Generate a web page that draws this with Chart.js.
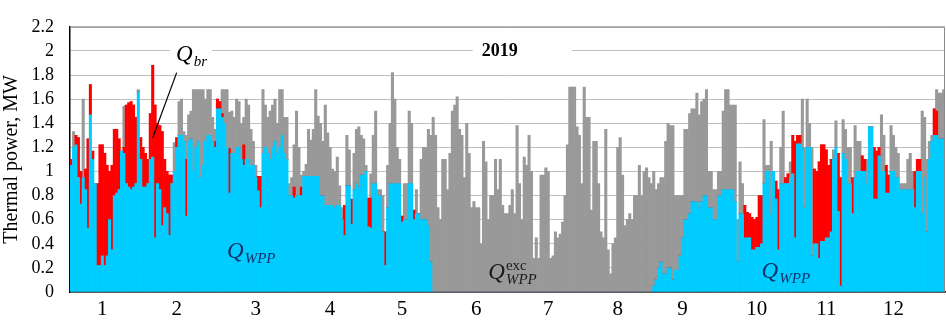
<!DOCTYPE html>
<html>
<head>
<meta charset="utf-8">
<script src="https://cdn.jsdelivr.net/npm/chart.js@4.4.1/dist/chart.umd.min.js"></script>
<style>
  html, body { margin: 0; padding: 0; background: #fff; }
  #wrap { width: 946px; height: 322px; }
</style>
</head>
<body>
<div id="wrap"><canvas id="powerChart" width="946" height="322"></canvas></div>
<script>
// month numbers under the axis and the day index each one sits on
const monthLabels = ["1", "2", "3", "4", "5", "6", "7", "8", "9", "10", "11", "12"];
const monthLabelDay = [13, 44, 77, 108, 138, 169, 199, 228, 255, 286, 315, 343];

// daily thermal power, MW (2019)
// Q_WPP - covered by the wood pellet plant
const qWpp = [
  // jan
  1.05, 1.2, 1.22, 0.95, 0.73, 0.95, 0.85, 0.53, 1.47, 1.1, 0.9, 0.22, 0.22, 0.3, 0.22, 0.3,
  0.6, 0.35, 0.8, 0.82, 0.85, 1.17, 1.15, 0.9, 0.87, 0.85, 0.87, 0.9, 1.66, 1.1, 0.87,
  // feb
  0.87, 0.9, 1.1, 1.12, 0.45, 0.9, 0.85, 0.55, 0.7, 0.65, 0.47, 0.9, 1.0, 1.2, 1.3, 1.3,
  1.25, 0.63, 1.25, 1.27, 1.0, 1.2, 1.25, 0.95, 1.05, 1.25, 1.3, 1.3,
  // mar
  1.25, 1.2, 1.52, 1.52, 1.45, 1.4, 1.2, 0.82, 1.15, 1.15, 1.2, 1.2, 1.1, 1.05, 1.1, 1.1,
  1.05, 1.05, 0.95, 0.84, 0.7, 1.15, 1.2, 1.15, 1.1, 1.2, 1.25, 1.15, 1.2, 1.3, 1.15,
  // apr
  1.1, 0.8, 0.8, 0.78, 0.8, 0.8, 0.8, 0.96, 0.96, 0.96, 0.96, 0.96, 0.96, 0.96, 0.8,
  0.8, 0.72, 0.72, 0.72, 0.72, 0.7, 0.72, 0.72, 0.6, 0.47, 0.88, 0.88, 0.56, 0.85, 0.9,
  // may
  0.87, 0.97, 0.97, 1.0, 0.54, 0.53, 0.9, 0.9, 0.8, 0.8, 0.5, 0.22, 0.7, 0.9, 0.9, 0.9,
  0.9, 0.9, 0.58, 0.6, 0.6, 0.9, 0.9, 0.6, 0.65, 0.65, 0.6, 0.6, 0.6, 0.55, 0.25,
  // jun
  0, 0, 0, 0, 0, 0, 0, 0, 0, 0, 0, 0, 0, 0, 0, 0, 0, 0, 0, 0, 0, 0, 0, 0, 0, 0, 0, 0, 0, 0,
  // jul
  0, 0, 0, 0, 0, 0, 0, 0, 0, 0, 0, 0, 0, 0, 0, 0, 0, 0, 0, 0, 0, 0, 0, 0, 0, 0, 0, 0, 0, 0, 0,
  // aug
  0, 0, 0, 0, 0, 0, 0, 0, 0, 0, 0, 0, 0, 0, 0, 0, 0, 0, 0, 0, 0, 0, 0, 0, 0, 0, 0, 0, 0, 0, 0,
  // sep
  0.05, 0.1, 0.2, 0.25, 0.15, 0.15, 0.2, 0.2, 0.1, 0.18, 0.18, 0.3, 0.45, 0.6, 0.6, 0.65,
  0.75, 0.75, 0.75, 0.7, 0.75, 0.8, 0.8, 0.7, 0.7, 0.6, 0.6, 0.8, 0.8, 0.85,
  // oct
  0.85, 0.85, 0.85, 0.85, 0.75, 0.25, 0.65, 0.65, 0.45, 0.45, 0.45, 0.35, 0.35, 0.37, 0.37,
  0.4, 0.9, 1.0, 1.0, 0.65, 1.0, 0.77, 0.35, 0.9, 0.9, 0.9, 0.9, 0.95, 0.98, 0.45, 1.23,
  // nov
  1.23, 1.2, 0.7, 1.2, 1.2, 0.3, 0.4, 0.4, 0.28, 0.42, 0.42, 0.45, 0.45, 0.5, 1.1, 1.2,
  0.67, 0.05, 1.15, 1.1, 0.9, 0.9, 0.65, 0.95, 1.0, 1.0, 1.0, 1.0, 0.9, 1.37,
  // dec
  1.37, 0.77, 0.77, 1.13, 1.0, 1.0, 0.82, 0.82, 1.0, 1.0, 0.95, 0.95, 0.85, 0.85, 0.85,
  0.85, 0.85, 0.85, 0.7, 1.0, 1.0, 0.65, 0.95, 0.5, 1.1, 1.25, 1.3, 1.3, 1.27, 1.27, 1.27
];

// Q_br - covered by the boiler
const qBr = [
  // jan
  0.05, 0, 0.08, 0.33, 0.27, 0, 0.17, 0.74, 0.25, 0.07, 0, 0.68, 1.0, 0.92, 0.93, 0.75,
  0.4, 0.7, 0.55, 0.53, 0.42, 0, 0.05, 0.65, 0.7, 0.73, 0.68, 0.55, 0, 0.18, 0.33,
  // feb
  0.28, 0.2, 0.38, 0.76, 1.1, 0.5, 0.53, 0.78, 0.4, 0.35, 0.5, 0.07, 0, 0.08, 0, 0,
  0, 0.47, 0, 0, 0, 0, 0, 0, 0, 0, 0, 0,
  // mar
  0, 0.05, 0.08, 0.06, 0.03, 0, 0, 0.37, 0, 0, 0, 0, 0, 0.17, 0, 0,
  0, 0, 0, 0.12, 0.26, 0, 0, 0, 0, 0, 0, 0, 0, 0, 0,
  // apr
  0, 0, 0, 0.09, 0, 0, 0.07, 0, 0, 0, 0, 0, 0, 0, 0,
  0, 0, 0, 0, 0, 0, 0, 0, 0, 0.25, 0, 0, 0.21, 0, 0,
  // may
  0, 0, 0, 0, 0.24, 0.25, 0, 0, 0, 0, 0, 0.28, 0, 0, 0, 0,
  0, 0, 0.05, 0, 0, 0, 0, 0.08, 0, 0, 0, 0, 0, 0, 0,
  // jun
  0, 0, 0, 0, 0, 0, 0, 0, 0, 0, 0, 0, 0, 0, 0, 0, 0, 0, 0, 0, 0, 0, 0, 0, 0, 0, 0, 0, 0, 0,
  // jul
  0, 0, 0, 0, 0, 0, 0, 0, 0, 0, 0, 0, 0, 0, 0, 0, 0, 0, 0, 0, 0, 0, 0, 0, 0, 0, 0, 0, 0, 0, 0,
  // aug
  0, 0, 0, 0, 0, 0, 0, 0, 0, 0, 0, 0, 0, 0, 0, 0, 0, 0, 0, 0, 0, 0, 0, 0, 0, 0, 0, 0, 0, 0, 0,
  // sep
  0, 0, 0, 0, 0, 0, 0, 0, 0, 0, 0, 0, 0, 0, 0, 0, 0, 0, 0, 0, 0, 0, 0, 0, 0, 0, 0, 0, 0, 0,
  // oct
  0, 0, 0, 0, 0, 0, 0, 0, 0.27, 0.21, 0.2, 0.27, 0.25, 0.25, 0.43,
  0.4, 0, 0, 0, 0, 0, 0.15, 0.5, 0, 0, 0.05, 0.08, 0, 0.32, 0.8, 0.07,
  // nov
  0.07, 0, 0, 0, 0, 0, 0.62, 0.6, 0.8, 0.8, 0.8, 0.73, 0.6, 0.6, 0, 0,
  0.48, 0.9, 0, 0, 0, 0, 0.3, 0, 0, 0, 0.13, 0.1, 0, 0,
  // dec
  0, 0.43, 0.4, 0.07, 0, 0, 0.23, 0.15, 0, 0, 0, 0, 0, 0, 0,
  0, 0, 0, 0.3, 0.1, 0.1, 0, 0, 0, 0, 0, 0.22, 0.2, 0, 0, 0
];

// Q_WPP exc - excess capacity of the plant
const qExc = [
  // jan
  0, 0.13, 0, 0, 0, 0.65, 0, 0, 0, 0, 0, 0, 0, 0, 0, 0,
  0, 0, 0, 0, 0, 0, 0.34, 0, 0, 0, 0, 0, 0.02, 0, 0,
  // feb
  0, 0, 0, 0, 0, 0, 0, 0, 0, 0, 0, 0, 0.24, 0, 0.28, 0.3,
  0.08, 0.2, 0.22, 0.23, 0.68, 0.48, 0.43, 0.73, 0.63, 0.35, 0.38, 0.38,
  // mar
  0.2, 0.1, 0, 0, 0.2, 0.28, 0.48, 0.3, 0.35, 0.3, 0.4, 0.38, 0.3, 0.23, 0.5, 0.45,
  0.3, 0.2, 0.1, 0, 0, 0.53, 0.35, 0.3, 0.4, 0.35, 0.35, 0.25, 0.48, 0.38, 0.3,
  // apr
  0.35, 0.1, 0.15, 0.35, 0.7, 0.4, 0.1, 0.04, 0.1, 0.39, 0.3, 0.39, 0.72, 0.5, 0.6,
  0.45, 0.83, 0.6, 0.48, 0.3, 0.3, 0.4, 0.16, 0.1, 0, 0.42, 0.3, 0, 0.3, 0.45,
  // may
  0.5, 0.33, 0.3, 0.05, 0, 0.2, 0.4, 0.6, 0.05, 0.05, 0.3, 0, 0.35, 0.5, 0.92, 0.7,
  0.3, 0.2, 0, 0.3, 0.3, 0.6, 0.5, 0, 0.2, 0, 0.5, 0.6, 0.6, 0.8, 1.05,
  // jun
  1.45, 1.3, 0.7, 0.6, 1.1, 1.1, 0.85, 1.15, 1.5, 1.55, 1.62, 1.35, 1.3, 0.95, 1.4,
  1.15, 0.7, 0.75, 0.7, 0.7, 0.4, 1.25, 1.08, 0.6, 0.8, 0.8, 1.1, 0.85, 1.1, 0.72,
  // jul
  0.65, 0.65, 0.72, 0.85, 0.65, 1.38, 0.9, 0.6, 1.12, 1.05, 1.3, 1.0, 0.28, 0.45, 0.28,
  0.97, 0.97, 1.03, 1.0, 0.28, 0.3, 0.5, 0.45, 0.48, 0.58, 0.8, 1.22, 1.7, 1.7, 1.7, 1.37,
  // aug
  1.3, 0.9, 1.7, 1.45, 1.45, 0.68, 1.25, 1.25, 0.9, 0.5, 0.45, 1.35, 0.35, 0.15, 0.4,
  0.45, 1.2, 1.28, 0.97, 0.55, 0.6, 0.65, 0.6, 0.8, 0.8, 1.05, 0.8, 1.0, 1.03, 0.95, 0.9,
  // sep
  0.95, 0.75, 0.7, 0.7, 0.8, 1.1, 1.2, 1.18, 1.28, 0.62, 0.62, 0.5, 0.35, 0.75, 0.75,
  0.83, 0.77, 0.77, 0.9, 0.77, 0.83, 0.8, 0.88, 0.3, 0.3, 0.25, 0.25, 0.2, 0.2, 0.65,
  // oct
  0.83, 0.83, 0.7, 0.7, 0.8, 0.35, 0.43, 0.25, 0, 0, 0, 0, 0, 0, 0,
  0, 0.53, 0.05, 0.05, 0.6, 0, 0, 0, 0.3, 0.6, 0, 0, 0.13, 0, 0, 0,
  // nov
  0, 0.4, 0.5, 0.4, 0.2, 0.9, 0, 0, 0, 0, 0, 0, 0, 0, 0.08, 0.22,
  0, 0, 0.28, 0.25, 0.3, 0.3, 0, 0.43, 0.25, 0.25, 0, 0, 0.2, 0,
  // dec
  0, 0, 0, 0, 0.47, 0.3, 0, 0, 0.38, 0.3, 0.25, 0.2, 0.05, 0.05, 0.05,
  0.25, 0.3, 0.15, 0, 0, 0, 0.85, 0.5, 0.6, 0.15, 0.05, 0, 0.18, 0.38, 0.38, 0.41
];

const serif = '"Liberation Serif", "Times New Roman", serif';

// draws Q with optional subscript / superscript
function drawQ(ctx, x, y, sub, sup, color) {
  ctx.fillStyle = color;
  ctx.textBaseline = "alphabetic";
  ctx.textAlign = "left";
  ctx.font = "italic 23px " + serif;
  ctx.fillText("Q", x, y);
  const w = ctx.measureText("Q").width + 1;
  if (sup) {
    ctx.font = "15px " + serif;
    ctx.fillText(sup, x + w, y - 9);
  }
  ctx.font = "italic 15px " + serif;
  ctx.fillText(sub, x + w, y + 5);
}

const notes = {
  id: "notes",
  afterDraw(chart) {
    const { ctx, chartArea, scales } = chart;
    const xs = scales.x;
    const ys = scales.y;
    ctx.save();

    // gray frame on top and right
    ctx.strokeStyle = "#8c8c8c";
    ctx.lineWidth = 1;
    ctx.beginPath();
    ctx.moveTo(chartArea.left, chartArea.top + 0.5);
    ctx.lineTo(chartArea.right - 0.5, chartArea.top + 0.5);
    ctx.lineTo(chartArea.right - 0.5, chartArea.bottom);
    ctx.stroke();

    // year title box
    const yx = xs.getPixelForValue(180);
    const yy = ys.getPixelForValue(2.0);
    ctx.fillStyle = "#fff";
    ctx.fillRect(yx - 30, yy - 9, 99, 18);
    ctx.fillStyle = "#000";
    ctx.font = "bold 18px " + serif;
    ctx.textAlign = "left";
    ctx.textBaseline = "middle";
    ctx.fillText("2019", yx - 21, yy);

    // Q_br label and leader
    const bx = xs.getPixelForValue(45);
    ctx.fillStyle = "#fff";
    ctx.fillRect(bx - 9, yy - 9, 42, 18);
    drawQ(ctx, bx - 3, yy + 10, "br", null, "#000");
    ctx.strokeStyle = "#000";
    ctx.lineWidth = 1.2;
    ctx.beginPath();
    ctx.moveTo(xs.getPixelForValue(44), ys.getPixelForValue(1.82));
    ctx.lineTo(xs.getPixelForValue(34), ys.getPixelForValue(1.28));
    ctx.stroke();

    // series labels
    drawQ(ctx, xs.getPixelForValue(65), ys.getPixelForValue(0.28), "WPP", null, "#12306a");
    drawQ(ctx, xs.getPixelForValue(174), ys.getPixelForValue(0.11), "WPP", "exc", "#1a1a1a");
    drawQ(ctx, xs.getPixelForValue(288), ys.getPixelForValue(0.12), "WPP", null, "#12306a");

    ctx.restore();
  },
};

const ctx = document.getElementById("powerChart").getContext("2d");

new Chart(ctx, {
  type: "bar",
  data: {
    labels: qWpp.map((v, i) => i),
    datasets: [
      { label: "Q_WPP", data: qWpp, backgroundColor: "#00ccff" },
      { label: "Q_br", data: qBr, backgroundColor: "#ff0000" },
      { label: "Q_WPP exc", data: qExc, backgroundColor: "#999999" },
    ],
  },
  options: {
    responsive: false,
    animation: false,
    devicePixelRatio: 1,
    layout: { padding: { top: 8, right: 1, left: 0, bottom: 0 } },
    datasets: {
      bar: { barPercentage: 1, categoryPercentage: 1, borderWidth: 0 },
    },
    plugins: {
      legend: { display: false },
      tooltip: { enabled: false },
    },
    scales: {
      x: {
        stacked: true,
        grid: { display: false },
        border: { display: true, color: "#000", width: 1.5 },
        afterFit: (scale) => { scale.height = 30; },
        ticks: {
          autoSkip: false,
          maxRotation: 0,
          padding: -3,
          color: "#000",
          font: { family: serif, size: 21 },
          callback: function (value, index) {
            const k = monthLabelDay.indexOf(index);
            return k >= 0 ? monthLabels[k] : "";
          },
        },
      },
      y: {
        stacked: true,
        min: 0,
        max: 2.2,
        grid: { color: "#bfbfbf", drawTicks: false },
        border: { display: true, color: "#000", width: 1.5 },
        afterFit: (scale) => { scale.width = 70; },
        ticks: {
          autoSkip: false,
          stepSize: 0.2,
          padding: 16,
          color: "#000",
          font: { family: serif, size: 18 },
          callback: (v) => String(Number(v.toFixed(1))),
        },
        title: {
          display: true,
          text: "Thermal power, MW",
          color: "#000",
          font: { family: serif, size: 20 },
          padding: { top: 0, bottom: 0 },
        },
      },
    },
  },
  plugins: [notes],
});
</script>
</body>
</html>
